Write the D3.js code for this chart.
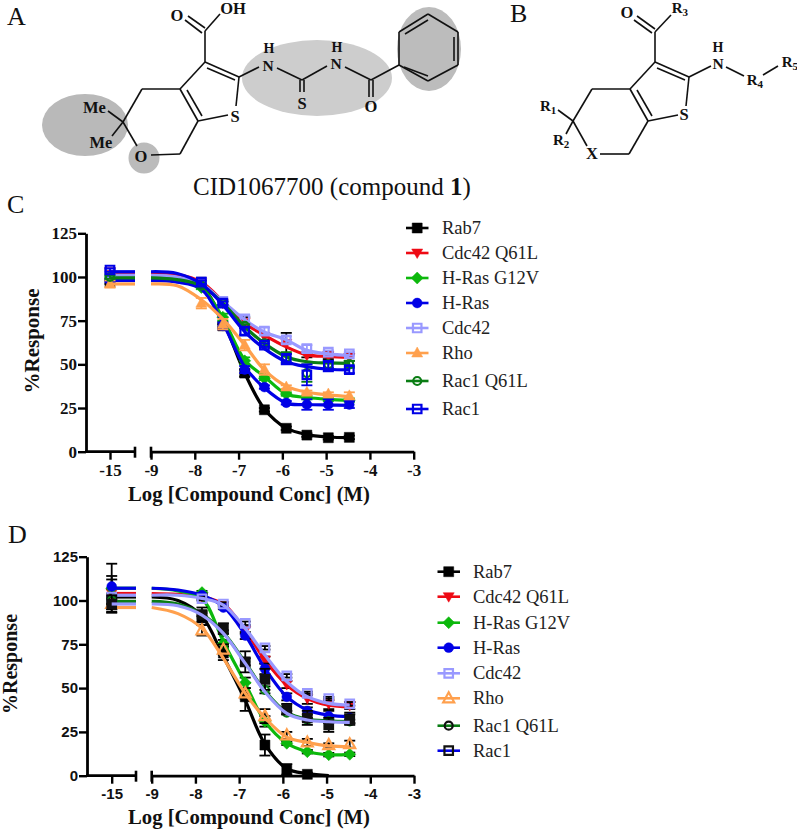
<!DOCTYPE html>
<html><head><meta charset="utf-8">
<style>html,body{margin:0;padding:0;background:#fff}svg{display:block}</style>
<script src="https://cdn.jsdelivr.net/npm/d3@7/dist/d3.min.js"></script>
</head><body><svg id="c" width="797" height="832"></svg>
<script>
// ---------- data ----------
const seriesNames = ["Rab7","Cdc42 Q61L","H-Ras G12V","H-Ras","Cdc42","Rho","Rac1 Q61L","Rac1"];
const yTicks = [0,25,50,75,100,125];
const xTicksLeft = [-15];
const xTicksRight = [-9,-8,-7,-6,-5,-4,-3];
const fitConc = [-9,-8.4,-7.85,-7.36,-6.86,-6.41,-5.91,-5.44,-4.95,-4.47];
const pointConc = [-15,-7.85,-7.36,-6.86,-6.41,-5.91,-5.44,-4.95,-4.47];

// Panel C fitted curves
const cFitRab7   = [100,99,94.5,75,45,24.5,13.5,9.8,8.4,8];
const cFitCdcQ   = [102.5,101.5,97,86,73.5,66.7,60,55.4,54.5,54];
const cFitRasG   = [100,99,94,76.5,52.5,43,33,31,30,29.5];
const cFitRas    = [98,97,93,73.7,48.7,36.5,27.8,27,26.7,26.5];
const cFitCdc    = [101,100,96,86,75.5,68.5,64,58,56,55];
const cFitRho    = [96,95,87,76,61,46.8,37.5,34,32.5,31.5];
const cFitRacQ   = [99.5,98.5,95,85,71.5,62,54.4,51.5,50.8,50.6];
const cFitRac    = [103,102,96,84,68.7,59,51.5,48.7,47.2,46.8];
// Panel C measured points
const cPtRab7    = [97,97,72,45,24,13.4,9.5,8,8.2];
const cPtCdcQ    = [103,97,85,74,66,62,55,55,54];
const cPtRasG    = [100,94,77,52,42,33,31,30,29.5];
const cPtRas     = [98,96,72,47,37,28,27,27,27];
const cPtCdc     = [102,97,86,76,69,64,59,57,56];
const cPtRho     = [96,85,73,61,47,37,34,33,32];
const cPtRacQ    = [100,95,85,72,62,54,45,50,50];
const cPtRac     = [104,97,85,69,61,53,44,49,47];
// Panel C error bars
const cErrRab7   = [1,1,1,2,1,1,1,1,1];
const cErrCdcQ   = [1,1,1,3,2,6,1,2,2];
const cErrRasG   = [1,1,2,2,1,1,1,1,1];
const cErrRas    = [1,1,2,2,1,1,3,3,2];
const cErrCdc    = [1,1,1,2,2,2,2,1,1];
const cErrRho    = [2,3,3,3,3,1,1,1,2];
const cErrRacQ   = [1,1,1,1,1,3,5,2,2];
const cErrRac    = [1,1,1,2,1,3,6,3,2];

// Panel D fitted curves
const dFitRab7   = [102,100,91,68,43,18,4,1.2,0,NaN];
const dFitCdcQ   = [104,103.5,102,98,83,66,51.8,44.1,40.3,39.4];
const dFitRasG   = [107,105.5,101,76.5,52.7,31,18.5,13.7,12,12.2];
const dFitRas    = [107,106,103,96.5,80.3,61.3,45.1,37.5,34.6,33.7];
const dFitCdc    = [103,103,101.2,97.4,84.1,68.9,53.7,45.1,41.3,40.3];
const dFitRho    = [96,92.5,84.1,67,47,33,22,19,17,16.5];
const dFitRacQ   = [99.5,98,92.2,81.7,64.6,48.4,36.1,32.3,31.3,30.9];
const dFitRac    = [98,97,91.7,81.2,64.1,47.9,35.6,31.8,30.8,30.4];
// Panel D measured points
const dPtRab7    = [100,90,70,45,17.5,3.6,0.8,NaN,NaN];
const dPtCdcQ    = [104,102,97,83,66,52,44,41,40];
const dPtRasG    = [107,104.5,75.5,53,31,18.5,13.7,12,12.2];
const dPtRas     = [108,103,96,80,61,45,37,34,33];
const dPtCdc     = [102,101,98,87,73,57,47,44,41];
const dPtRho     = [98,83,72,47,34,23,19,17.5,18];
const dPtRacQ    = [100,92,82,65,49,36,32,31,31];
const dPtRac     = [98,92,84,65,55,38,33,29,32];
// Panel D error bars
const dErrRab7   = [6.5,4,4,8,6,3,1,0,0];
const dErrCdcQ   = [8,1,1,2,2,2,3,3,2];
const dErrRasG   = [7,1,2,3,3,1,1,1,1];
const dErrRas    = [13,1,1,2,3,2,2,3,3];
const dErrCdc    = [2,1,1,1,1,1,1,1,1];
const dErrRho    = [3,3,3,3,4,2,2,1,2];
const dErrRacQ   = [2,1,1,2,2,1,1,1,1];
const dErrRac    = [5,4,3,6,6,3,4,4,3];

const cFits=[cFitRab7,cFitCdcQ,cFitRasG,cFitRas,cFitCdc,cFitRho,cFitRacQ,cFitRac];
const cPts=[cPtRab7,cPtCdcQ,cPtRasG,cPtRas,cPtCdc,cPtRho,cPtRacQ,cPtRac];
const cErrs=[cErrRab7,cErrCdcQ,cErrRasG,cErrRas,cErrCdc,cErrRho,cErrRacQ,cErrRac];
const dFits=[dFitRab7,dFitCdcQ,dFitRasG,dFitRas,dFitCdc,dFitRho,dFitRacQ,dFitRac];
const dPts=[dPtRab7,dPtCdcQ,dPtRasG,dPtRas,dPtCdc,dPtRho,dPtRacQ,dPtRac];
const dErrs=[dErrRab7,dErrCdcQ,dErrRasG,dErrRas,dErrCdc,dErrRho,dErrRacQ,dErrRac];

// ---------- styles ----------
const lineColors=["#000","#ee0a14","#0cb80c","#0000e6","#9999ff","#ffa04d","#0a7d14","#0000e6"];
const shapes=["square","down","diamond","circle","hsquare","up","hcircle","hsquare"];
const SERIF='"Liberation Serif","Times New Roman",serif', SANS='"Liberation Sans",Arial,sans-serif';
const svg=d3.select("#c");

function marker(g,shape,x,y,color,hollowColor,hole){
  const s=shape;
  const t=g.append("path").attr("transform",`translate(${x},${y})`);
  if(s==="square"||s==="hsquare"){
    const a=s==="square"?10:8.5;
    t.attr("d",`M${-a/2},${-a/2}h${a}v${a}h${-a}z`);
  } else if(s==="circle"||s==="hcircle"){
    t.attr("d",d3.symbol().type(d3.symbolCircle).size(s==="circle"?75:50)());
  } else if(s==="diamond"){
    t.attr("d","M0,-6L6,0L0,6L-6,0Z");
  } else if(s==="up"){
    t.attr("d","M0,-6L5.5,4H-5.5Z");
  } else {
    t.attr("d","M0,5.5L5.5,-4H-5.5Z");
  }
  const hollow=(s[0]==="h")||hole;
  t.attr("fill",hollow?"none":color).attr("stroke",color).attr("stroke-width",hollow?2.2:0.5);
  return t;
}

function panel(cfg){
  const y=d3.scaleLinear().domain([0,125]).range([cfg.y0,cfg.y125]);
  const xL=d3.scaleLinear().domain([-15,-14]).range([cfg.x15,cfg.x15+cfg.dec]);
  const xR=d3.scaleLinear().domain([-9,-3]).range([cfg.x9,cfg.x3]);
  const root=svg.append("g");

  // series
  cfg.fits.forEach((fit,i)=>{
    const g=root.append("g");
    const lc=(cfg.lineOverride&&cfg.lineOverride[i])||lineColors[i];
    const mc=(cfg.markerOverride&&cfg.markerOverride[i])||lineColors[i];
    const ec=cfg.errOverride?cfg.errOverride(i):lineColors[i];
    const px=c=>c===-15?xL(c):xR(c);
    // error bars
    cfg.pts[i].forEach((v,k)=>{
      const e=cfg.errs[i][k];
      if(!isFinite(v)||e<=0) return;
      const X=px(pointConc[k]);
      g.append("line").attr("x1",X).attr("x2",X).attr("y1",y(v-e)).attr("y2",y(v+e)).attr("stroke",ec).attr("stroke-width",1.8);
      [v-e,v+e].forEach(q=>g.append("line").attr("x1",X-5.5).attr("x2",X+5.5).attr("y1",y(q)).attr("y2",y(q)).attr("stroke",ec).attr("stroke-width",1.8));
    });
    // markers
    cfg.pts[i].forEach((v,k)=>{
      if(!isFinite(v)) return;
      const hole=cfg.hollowRho&&i===5;
      const t=marker(g,shapes[i],px(pointConc[k]),y(v),mc,null,hole);
      if(cfg.fillRac&&i===7) t.attr("fill",mc);
    });
    // plateau stub on the left axis segment
    g.append("line").attr("x1",xL(-15)).attr("x2",cfg.xEndL).attr("y1",y(fit[0])).attr("y2",y(fit[0]))
      .attr("stroke",lc).attr("stroke-width",cfg.lw);
    // fit
    const ln=d3.line().defined(d=>isFinite(d[1])).x(d=>xR(d[0])).y(d=>y(d[1])).curve(d3.curveCatmullRom.alpha(0.5));
    g.append("path").attr("d",ln(fitConc.map((c,k)=>[c,fit[k]]))).attr("fill","none").attr("stroke",lc).attr("stroke-width",cfg.lw);
  });

  // axes
  const tickFont=cfg.tickFont, tf=cfg.tickSize;
  const fmt=d=>String(d);
  const styleAxis=(a)=>{
    a.selectAll("path.domain").attr("stroke","#000").attr("stroke-width",2.8);
    a.selectAll(".tick line").attr("stroke","#000").attr("stroke-width",2.4);
    a.selectAll(".tick text").attr("font-family",tickFont).attr("font-size",tf).attr("font-weight","bold").attr("fill","#111");
  };
  const ay=root.append("g").attr("transform",`translate(${cfg.xAxis},0)`)
    .call(d3.axisLeft(y).tickValues(yTicks).tickFormat(fmt).tickSize(8).tickSizeOuter(0).tickPadding(1));
  styleAxis(ay);
  const axL=root.append("g").attr("transform",`translate(0,${cfg.y0})`)
    .call(d3.axisBottom(xL).tickValues(xTicksLeft).tickFormat(fmt).tickSize(8).tickPadding(cfg.xPad).tickSizeOuter(0));
  axL.select("path.domain").attr("d",`M${cfg.xAxis-1},0H${cfg.xEndL}`);
  styleAxis(axL);
  const axR=root.append("g").attr("transform",`translate(0,${cfg.y0})`)
    .call(d3.axisBottom(xR).tickValues(xTicksRight).tickFormat(fmt).tickSize(8).tickPadding(cfg.xPad).tickSizeOuter(0));
  styleAxis(axR);
  // axis-break end bars
  [cfg.xEndL,xR(-9)].forEach(X=>root.append("line").attr("x1",X).attr("x2",X).attr("y1",cfg.y0-5).attr("y2",cfg.y0+6).attr("stroke","#000").attr("stroke-width",2.6));

  // titles
  root.append("text").attr("x",cfg.xTitleX).attr("y",cfg.xTitleY).attr("text-anchor","middle")
    .attr("font-family",SERIF).attr("font-weight","bold").attr("font-size",20.7).attr("fill","#111").text("Log [Compound Conc] (M)");
  root.append("text").attr("transform",`translate(${cfg.yTitleX},${cfg.yTitleY}) rotate(-90)`).attr("text-anchor","middle")
    .attr("font-family",SERIF).attr("font-weight","bold").attr("font-size",cfg.yTitleSize).attr("fill","#111").text("%Response");

  // legend
  seriesNames.forEach((n,i)=>{
    const Y=cfg.legY[i], lg=root.append("g");
    const lc=lineColors[i];
    const mc=(cfg.legMarker&&cfg.legMarker[i])||lc;
    lg.append("line").attr("x1",cfg.legX).attr("x2",cfg.legX+22.5).attr("y1",Y).attr("y2",Y).attr("stroke",lc).attr("stroke-width",2.6);
    marker(lg,shapes[i],cfg.legX+11.2,Y,mc,null,cfg.hollowRho&&i===5);
    lg.append("text").attr("x",cfg.legTextX).attr("y",Y+6).attr("font-family",SERIF).attr("font-size",18.5).attr("fill","#222").text(n);
  });
}

panel({fits:cFits,pts:cPts,errs:cErrs,y0:451.7,y125:233.3,x15:110,dec:43.75,x9:151,x3:413.7,xAxis:86,xEndL:135,lw:3.2,
  tickFont:SERIF,tickSize:17,xPad:4,xTitleX:249,xTitleY:501,yTitleX:39,yTitleY:341,yTitleSize:21,
  legX:406,legTextX:442,legY:[228,253,278,303,328,353,381,409],
  errOverride:i=>i===1?"#000":lineColors[i]});
panel({fits:dFits,pts:dPts,errs:dErrs,y0:775.7,y125:556.7,x15:111.7,dec:43.75,x9:151.7,x3:414,xAxis:87,xEndL:136,lw:3.2,
  tickFont:SANS,tickSize:15,xPad:5,xTitleX:249,xTitleY:824,yTitleX:17,yTitleY:664,yTitleSize:20,
  legX:437.5,legTextX:473,legY:[571.7,596.7,622.7,647.7,673.3,698.3,725.7,750.7],
  lineOverride:{7:"#9999ff"},markerOverride:{7:"#111"},fillRac:true,hollowRho:true,
  legMarker:{7:"#111",6:"#111"},errOverride:()=>"#000"});

// ---------- structures A / B (decorative drawing) ----------
const st=svg.insert("g",":first-child");
[[85,125,43,31,0,"#b9b9b9"],[144,158,15.5,15.5,0,"#bbb"],[317,78,75,38,0,"#cdcdcd"],[429,49,32,42,0,"#bcbcbc"]]
 .forEach(e=>st.append("ellipse").attr("cx",e[0]).attr("cy",e[1]).attr("rx",e[2]).attr("ry",e[3]).attr("fill",e[5]));
const bondsA=[[205,62,205,31],[202,33,185,20],[205,28,188,16],[205,31,220,14],[205,62,239,77],[207,68,235,80],[205,62,180,89],
 [180,89,198,121],[187,90,202,116],[236,106,239,77],[228,115,198,121],[180,89,142,89],[142,89,123,122],[123,122,137,146],[151,155,180,154],[180,154,198,121],
 [123,122,108,111],[123,122,112,136],[239,77,259,67],[277,68,302,80],[300,80,300,92],[304,80,304,92],[302,80,327,66],[345,67,371,80],[369,80,369,97],[373,80,373,97],[371,80,399,65],
 [399,65,428,81],[428,81,458,65],[458,65,458,32],[458,32,428,14],[428,14,399,32],[399,32,399,65],[405,34,428,20],[454,37,454,61],[404,67,428,76]];
const bondsB=[[655,62,655,32],[652,33,634,20],[655,29,637,16],[655,32,671,15],[655,62,689,77],[657,68,685,80],[655,62,630,89],
 [630,89,648,121],[637,90,652,116],[686,106,689,77],[678,115,648,121],[630,89,592,89],[592,89,573,121],[573,121,587,146],[600,154,629,154],[629,154,648,121],
 [573,121,558,110],[573,121,566,134],[689,77,711,66],[726,67,744,76],[763,75,778,66]];
bondsA.concat(bondsB).forEach(b=>st.append("line").attr("x1",b[0]).attr("y1",b[1]).attr("x2",b[2]).attr("y2",b[3]).attr("stroke","#111").attr("stroke-width",1.6));
const atoms=[["O",177,20.5,16.5],["OH",233,14,16.5],["S",235,121.5,16.5],["Me",94.5,113,16.5],["Me",101,148,16.5],["O",141,161.5,16.5],["H",269,53,14],["N",268,70.5,15.5],["S",302,109,16.5],
 ["H",337,51.5,14],["N",336,69,15.5],["O",371,111.5,16.5],
 ["O",627,18,16.5],["S",684,120,16.5],["H",718,51.5,14],["N",718,69,15.5],["X",592,159,16.5]];
atoms.forEach(a=>st.append("text").attr("x",a[1]).attr("y",a[2]).attr("text-anchor","middle").attr("font-family",SERIF).attr("font-weight","bold").attr("font-size",a[3]).attr("fill","#111").text(a[0]));
[["R","3",671.7,13],["R","1",540,111],["R","2",553,145],["R","4",746.7,85],["R","5",781.7,66.7]].forEach(r=>{
  const t=st.append("text").attr("x",r[2]).attr("y",r[3]).attr("font-family",SERIF).attr("font-weight","bold").attr("font-size",15).attr("fill","#111");
  t.append("tspan").text(r[0]);
  t.append("tspan").attr("font-size",11).attr("dy",3).text(r[1]);
});
const caption=st.append("text").attr("x",193).attr("y",195).attr("font-family",SERIF).attr("font-size",25).attr("fill","#111");
caption.append("tspan").text("CID1067700 (compound ");
caption.append("tspan").attr("font-weight","bold").text("1");
caption.append("tspan").text(")");
[["A",7,25],["B",510,22],["C",7,213],["D",8,543]].forEach(l=>st.append("text").attr("x",l[1]).attr("y",l[2]).attr("font-family",SERIF).attr("font-size",26).attr("fill","#111").text(l[0]));
</script></body></html>
